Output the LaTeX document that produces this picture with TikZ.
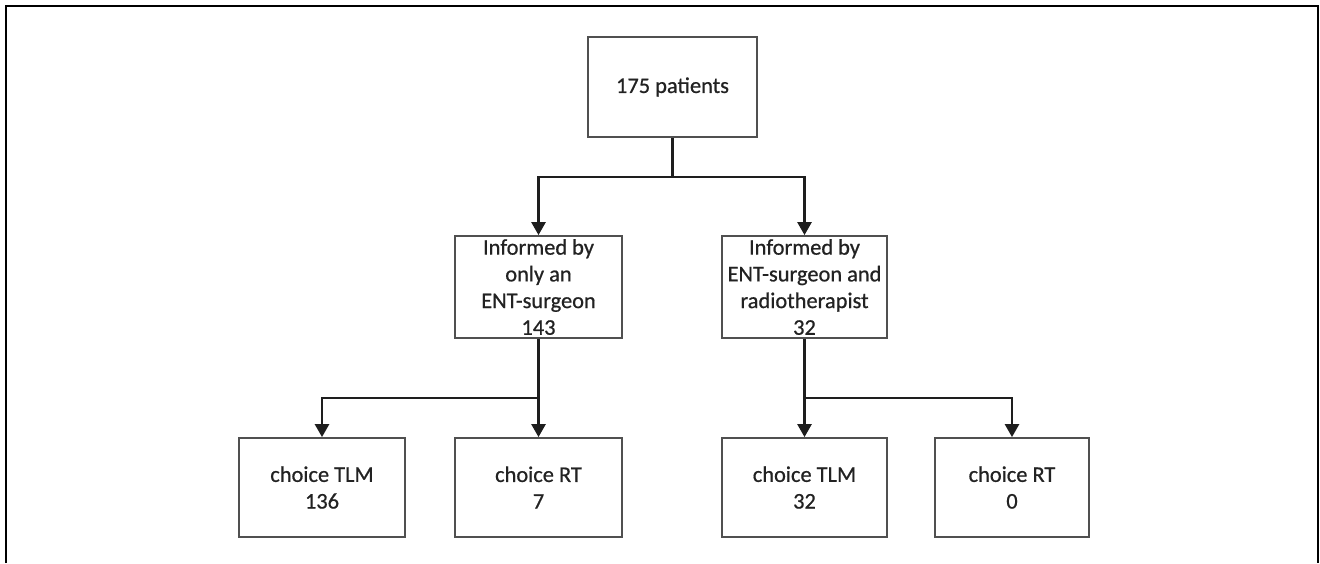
\documentclass[tikz,border=0pt]{standalone}
\usepackage{fontspec}
\setmainfont{Carlito}
\newfontfamily\boxfont{Carlito}[FakeBold=0.7]
\usetikzlibrary{arrows.meta}
\definecolor{boxline}{HTML}{505050}
\definecolor{ink}{HTML}{222222}
\definecolor{conncol}{HTML}{1E1E1E}
\tikzset{
  fbox/.style={draw=boxline, line width=0.9pt, rectangle, inner sep=0pt, align=center,
    text=ink, font=\boxfont\fontsize{11.2}{13.35}\selectfont},
  conn/.style={draw=conncol, line width=1.3pt},
  arr/.style={conn, -{Triangle[width=7pt,length=6.5pt]}},
}
\begin{document}
\begin{tikzpicture}[x=0.5pt,y=-0.5pt]
\useasboundingbox (0,0) rectangle (1320,563);
% outer frame (open at bottom)
\draw[black, line width=1.1pt] (6,563) -- (6,6) -- (1318,6) -- (1318,563);

\node[fbox, minimum width=84.5pt, minimum height=50pt] (top) at (672.5,87) {175 patients};

\node[fbox, minimum width=83.5pt, minimum height=51pt] (m1) at (538.5,287) {Informed by\\only an\\ENT-surgeon\\143};
\node[fbox, minimum width=82.5pt, minimum height=51pt] (m2) at (804.5,287) {Informed by\\ENT-surgeon and\\radiotherapist\\32};

\node[fbox, minimum width=83pt, minimum height=49.5pt] (b1) at (322,487.5) {choice TLM\\136};
\node[fbox, minimum width=83.5pt, minimum height=49.5pt] (b2) at (538.5,487.5) {choice RT\\7};
\node[fbox, minimum width=82.5pt, minimum height=49.5pt] (b3) at (804.5,487.5) {choice TLM\\32};
\node[fbox, minimum width=77pt, minimum height=49.5pt] (b4) at (1012,487.5) {choice RT\\0};

\coordinate (j1) at (672.5,177);
\coordinate (j2) at (538.5,398);
\coordinate (j3) at (804.5,398);

\draw[conn] (top.south) -- (j1);
\draw[arr] (j1) -| (m1.north);
\draw[arr] (j1) -| (m2.north);

\draw[arr] (m1.south) -- (b2.north);
\draw[arr] (j2) -| (b1.north);

\draw[arr] (m2.south) -- (b3.north);
\draw[arr] (j3) -| (b4.north);
\end{tikzpicture}
\end{document}
